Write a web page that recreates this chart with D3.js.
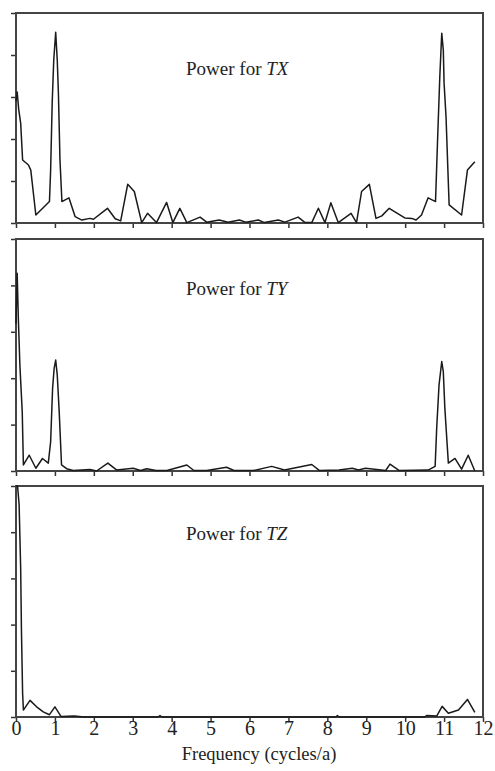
<!DOCTYPE html>
<html>
<head>
<meta charset="utf-8">
<script src="https://cdn.jsdelivr.net/npm/d3@7"></script>
<style>
  body { margin: 0; background: #fff; }
  svg { display: block; font-family: "Liberation Serif", "Times New Roman", serif; }
</style>
</head>
<body>
<svg id="chart" width="495" height="771"></svg>
<script>
// frequency (cycles/a) and power
const freqTX = [0, 0.03, 0.07, 0.12, 0.17, 0.32, 0.38, 0.51, 0.86, 0.89, 0.93, 0.97, 1.02, 1.06, 1.09, 1.13, 1.18,
  1.36, 1.52, 1.69, 1.9, 1.99, 2.35, 2.55, 2.69, 2.87, 3.04, 3.23, 3.38, 3.61, 3.87, 4.03, 4.21, 4.39, 4.73, 4.9,
  5.22, 5.45, 5.74, 5.9, 6.23, 6.38, 6.74, 6.91, 7.25, 7.43, 7.6, 7.77, 7.94, 8.09, 8.28, 8.61, 8.75, 8.88, 9.08,
  9.25, 9.4, 9.59, 9.99, 10.17, 10.28, 10.42, 10.59, 10.78, 10.83, 10.89, 10.94, 10.98, 11.0, 11.05, 11.11, 11.13,
  11.45, 11.6, 11.79]
const powerTX = [2.9, 3.12, 2.7, 2.38, 1.5, 1.38, 1.26, 0.19, 0.51, 1.26, 2.86, 3.88, 4.54, 3.88, 3.09, 1.5, 0.51,
  0.6, 0.15, 0.07, 0.11, 0.09, 0.35, 0.1, 0.05, 0.92, 0.75, 0.01, 0.23, 0.01, 0.49, 0.01, 0.35, 0.01, 0.14, 0.02,
  0.07, 0.02, 0.07, 0.02, 0.07, 0.01, 0.07, 0.02, 0.14, 0.01, 0.01, 0.35, 0.01, 0.48, 0.01, 0.23, 0.01, 0.75, 0.92,
  0.11, 0.17, 0.35, 0.12, 0.11, 0.07, 0.19, 0.6, 0.51, 1.9, 3.48, 4.52, 4.12, 3.33, 2.53, 0.94, 0.43,
  0.19, 1.26, 1.46]

const freqTY = [0, 0.03, 0.06, 0.1, 0.16, 0.19, 0.34, 0.51, 0.68, 0.83, 0.89, 0.94, 0.98, 1.02, 1.06, 1.11, 1.17,
  1.3, 1.47, 1.9, 2.07, 2.36, 2.59, 3.01, 3.2, 3.36, 3.6, 3.88, 4.39, 4.57, 4.9, 5.41, 5.6, 6.1, 6.57, 6.9, 7.6,
  7.8, 8.3, 8.64, 8.8, 8.98, 9.5, 9.61, 9.85, 10.59, 10.77, 10.81, 10.87, 10.94, 10.98, 11.02, 11.08, 11.11,
  11.28, 11.45, 11.62, 11.79]
const powerTY = [3.18, 4.26, 3.29, 2.28, 1.28, 0.13, 0.34, 0.06, 0.27, 0.17, 0.63, 1.78, 2.21, 2.39, 2.07, 1.28, 0.13,
  0.05, 0.01, 0.03, 0, 0.17, 0.02, 0.06, 0.01, 0.05, 0.01, 0.01, 0.13, 0.01, 0.01, 0.08, 0.01, 0.01, 0.1, 0.02, 0.14,
  0.01, 0.02, 0.06, 0.02, 0.06, 0.01, 0.15, 0.01, 0.02, 0.1, 0.92, 1.85, 2.36, 2.14, 1.35, 0.56, 0.17,
  0.27, 0.04, 0.34, 0]

const freqTZ = [0, 0.04, 0.08, 0.12, 0.14, 0.17, 0.19, 0.36, 0.53, 0.7, 0.86, 1.0, 1.16, 1.5, 1.75, 3.65, 3.7, 3.75,
  8.22, 8.26, 8.3, 10.5, 10.55, 10.81, 10.95, 11.11, 11.37, 11.6, 11.79]
const powerTZ = [5, 5, 4.6, 3.22, 1.88, 0.51, 0.15, 0.36, 0.22, 0.11, 0.05, 0.22, 0.01, 0.02, 0, 0, 0.03, 0,
  0, 0.03, 0, 0, 0.03, 0.02, 0.23, 0.08, 0.15, 0.38, 0.1]

const panelNames = ["TX", "TY", "TZ"]
const xTicks = d3.range(0, 13)
const yTicks = d3.range(0, 6)

const panels = [
  { name: panelNames[0], freq: freqTX, power: powerTX, top: 13, bottom: 223, titleDy: 62 },
  { name: panelNames[1], freq: freqTY, power: powerTY, top: 239, bottom: 471, titleDy: 56 },
  { name: panelNames[2], freq: freqTZ, power: powerTZ, top: 486, bottom: 717, titleDy: 54 }
]

const left = 16, right = 483
const svg = d3.select("#chart")

const x = d3.scaleLinear().domain([0, 12]).range([left, right])

panels.forEach((p, i) => {
  const y = d3.scaleLinear().domain([0, 5]).range([p.bottom, p.top])
  const g = svg.append("g")

  // ticks
  g.append("g")
    .attr("transform", `translate(0,${p.bottom})`)
    .call(d3.axisBottom(x).tickValues(xTicks).tickSize(5).tickSizeOuter(0)
      .tickFormat(i === 2 ? d3.format("d") : ""))
    .call(a => a.select(".domain").remove())
    .call(a => a.selectAll("line").attr("stroke", "#333").attr("stroke-width", 1.5))
    .call(a => a.selectAll("text")
      .attr("font-family", "Liberation Serif, serif")
      .attr("font-size", 20)
      .attr("fill", "#222")
      .attr("y", 4)
      .attr("dy", "0.71em"))

  g.append("g")
    .attr("transform", `translate(${left},0)`)
    .call(d3.axisLeft(y).tickValues(yTicks).tickSize(5).tickSizeOuter(0).tickFormat(""))
    .call(a => a.select(".domain").remove())
    .call(a => a.selectAll("line").attr("stroke", "#333").attr("stroke-width", 1.5))

  // frame
  g.append("rect")
    .attr("x", left).attr("y", p.top)
    .attr("width", right - left).attr("height", p.bottom - p.top)
    .attr("fill", "none")
    .attr("stroke", "#444")
    .attr("stroke-width", 2)

  const pts = p.freq.map((f, k) => [f, p.power[k]])
  const line = d3.line()
    .x(d => x(d[0]))
    .y(d => y(d[1]))

  g.append("path")
    .datum(pts)
    .attr("fill", "none")
    .attr("stroke", "#1a1a1a")
    .attr("stroke-width", 1.5)
    .attr("stroke-linejoin", "round")
    .attr("d", line)

  const title = g.append("text")
    .attr("x", 186)
    .attr("y", p.top + p.titleDy)
    .attr("font-size", 19)
    .attr("fill", "#222")
  title.append("tspan").text("Power for ")
  title.append("tspan").attr("font-style", "italic").text(p.name)
})

svg.append("text")
  .attr("x", 259)
  .attr("y", 760)
  .attr("text-anchor", "middle")
  .attr("font-size", 18.5)
  .attr("fill", "#222")
  .text("Frequency (cycles/a)")
</script>
</body>
</html>
